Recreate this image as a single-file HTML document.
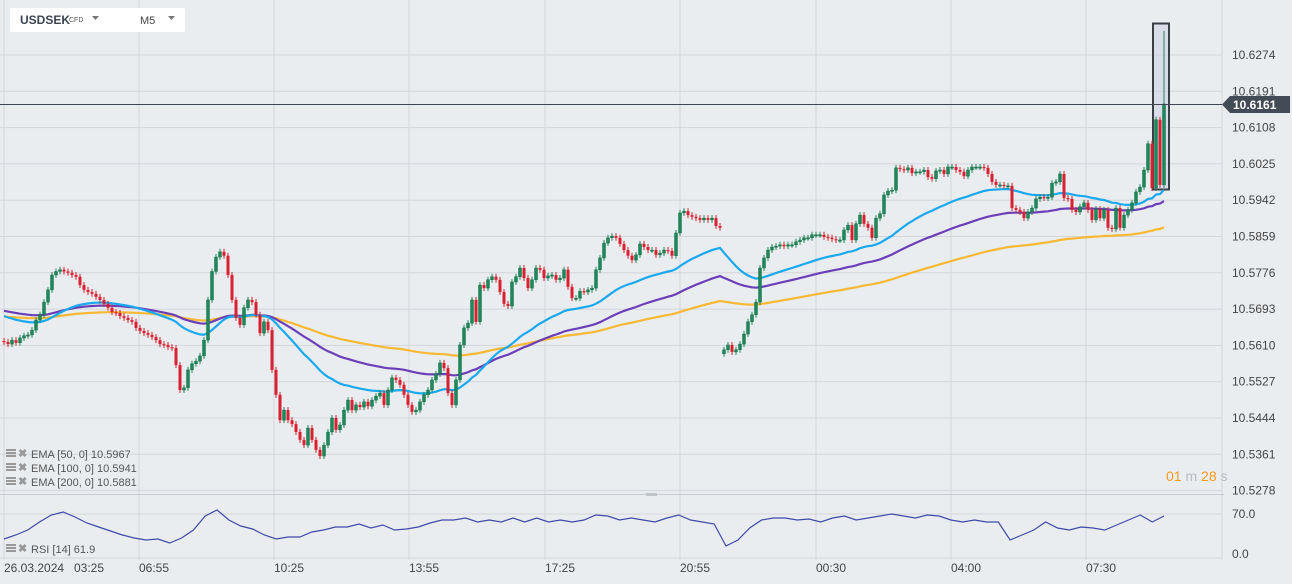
<!DOCTYPE html>
<html><head><meta charset="utf-8"><style>
html,body{margin:0;padding:0;background:#eaedf0;width:1292px;height:584px;overflow:hidden;font-family:"Liberation Sans",sans-serif}
svg{position:absolute;left:0;top:0}
</style></head><body>
<svg id="chart" width="1292" height="584" xmlns="http://www.w3.org/2000/svg"></svg>
<script>
const priceTicks=[10.6274,10.6191,10.6108,10.6025,10.5942,10.5859,10.5776,10.5693,10.5610,10.5527,10.5444,10.5361,10.5278];
const timeLabels=["26.03.2024","03:25","06:55","10:25","13:55","17:25","20:55","00:30","04:00","07:30"];
const closes=[10.5618,10.5613,10.5622,10.5616,10.5627,10.5632,10.5634,10.5645,10.5668,10.5680,10.5709,10.5737,10.5771,10.5779,10.5783,10.5779,10.5776,10.5771,10.5767,10.5748,10.5737,10.5732,10.5728,10.5721,10.5714,10.5705,10.5696,10.5686,10.5684,10.5677,10.5673,10.5668,10.5664,10.5650,10.5643,10.5638,10.5634,10.5629,10.5622,10.5613,10.5611,10.5606,10.5604,10.5565,10.5508,10.5513,10.5554,10.5568,10.5574,10.5586,10.5622,10.5714,10.5779,10.5812,10.5824,10.5815,10.5771,10.5714,10.5673,10.5657,10.5696,10.5714,10.5709,10.5680,10.5638,10.5664,10.5645,10.5554,10.5497,10.5439,10.5462,10.5439,10.5430,10.5412,10.5394,10.5382,10.5421,10.5394,10.5371,10.5357,10.5382,10.5412,10.5444,10.5417,10.5428,10.5462,10.5485,10.5462,10.5474,10.5469,10.5481,10.5471,10.5485,10.5494,10.5501,10.5474,10.5508,10.5536,10.5531,10.5520,10.5497,10.5474,10.5458,10.5462,10.5481,10.5497,10.5508,10.5531,10.5545,10.5570,10.5558,10.5501,10.5474,10.5531,10.5611,10.5650,10.5661,10.5714,10.5664,10.5748,10.5741,10.5760,10.5767,10.5760,10.5732,10.5705,10.5700,10.5755,10.5767,10.5787,10.5764,10.5741,10.5760,10.5787,10.5783,10.5764,10.5769,10.5771,10.5760,10.5764,10.5783,10.5744,10.5718,10.5718,10.5734,10.5732,10.5737,10.5741,10.5783,10.5810,10.5844,10.5856,10.5860,10.5856,10.5842,10.5828,10.5815,10.5805,10.5817,10.5842,10.5835,10.5828,10.5828,10.5817,10.5821,10.5828,10.5826,10.5815,10.5867,10.5913,10.5917,10.5908,10.5904,10.5901,10.5897,10.5901,10.5897,10.5901,10.5883,10.5879,10.5600,10.5611,10.5595,10.5600,10.5613,10.5636,10.5664,10.5680,10.5709,10.5787,10.5810,10.5828,10.5835,10.5837,10.5840,10.5837,10.5840,10.5840,10.5847,10.5851,10.5856,10.5856,10.5863,10.5863,10.5863,10.5858,10.5856,10.5853,10.5851,10.5851,10.5874,10.5885,10.5851,10.5888,10.5908,10.5888,10.5879,10.5856,10.5901,10.5911,10.5954,10.5963,10.5965,10.6016,10.6013,10.6011,10.6016,10.6004,10.6007,10.6007,10.6011,10.5995,10.5991,10.6009,10.6011,10.6002,10.6018,10.6018,10.6011,10.6007,10.5997,10.6011,10.6018,10.6018,10.6018,10.6016,10.6002,10.5984,10.5977,10.5977,10.5975,10.5975,10.5924,10.5920,10.5915,10.5901,10.5915,10.5924,10.5945,10.5949,10.5947,10.5949,10.5981,10.5984,10.6002,10.5947,10.5945,10.5920,10.5915,10.5927,10.5936,10.5920,10.5897,10.5922,10.5901,10.5920,10.5879,10.5876,10.5924,10.5879,10.5908,10.5920,10.5936,10.5961,10.5972,10.6011,10.6071,10.5970,10.6126,10.5977,10.6162];
const gapIndex=[180];
const lastHigh=10.6329;
const emaPeriods=[40,80,160];
const emaSeeds=[10.5680,10.5691,10.5677];
const rsiValues=[26.3,33.3,42,56,68.3,73.5,64.8,54.3,47.3,40.3,33.3,28,24.5,26.3,19.3,28,42,66.5,77,59.5,49,43.8,33.3,26.3,29.8,29.8,38.5,42,47.3,47.3,52.5,45.5,50.8,42,43.8,47.3,54.3,59.5,59.5,63,56,59.5,56,63,56,63,56,59.5,56,59.5,68.3,66.5,59.5,63,59.5,56,63,68.3,59.5,56,52.5,14,24.5,45.5,59.5,63,63,59.5,61.3,56,63,66.5,59.5,63,66.5,70,66.5,63,68.3,66.5,59.5,56,59.5,56,56,24.5,33.3,42,56,45.5,42,47.3,45.5,42,50.8,59.5,68.3,56,66.5];

const NS="http://www.w3.org/2000/svg";
const svg=document.getElementById('chart');
function el(t,a,p){const e=document.createElementNS(NS,t);for(const k in a)e.setAttribute(k,a[k]);(p||svg).appendChild(e);return e;}
const yP=p=>55+(10.6274-p)/0.0083*36.3;
const x0=4,x1=1164;
const xI=i=>x0+i*(x1-x0)/(closes.length-1);
const yR=v=>514+(70-v)/70*40;
const xR=i=>x0+i*(x1-x0)/(rsiValues.length-1);

const grid=el('g',{});


[4,139,274,409,545,680,816,951,1086,1222].forEach(x=>el('line',{x1:x,y1:0,x2:x,y2:560,stroke:'#d2d6da','stroke-width':1},grid));
priceTicks.forEach(p=>el('line',{x1:0,y1:yP(p),x2:1222,y2:yP(p),stroke:'#d2d6da','stroke-width':1},grid));
el('line',{x1:0,y1:514,x2:1222,y2:514,stroke:'#d2d6da'},grid);
el('line',{x1:0,y1:558,x2:1222,y2:558,stroke:'#d2d6da'},grid);
el('line',{x1:0,y1:494.5,x2:1224,y2:494.5,stroke:'#c8cdd2','stroke-width':1},grid);
el('rect',{x:646,y:493,width:11,height:3,fill:'#bfc4c9'},grid);

priceTicks.forEach(p=>{const t=el('text',{x:1232,y:yP(p)+4,'font-size':12,fill:'#444'});t.textContent=p.toFixed(4);

});
[[70,'70.0',518],[0,'0.0',558]].forEach(r=>{const t=el('text',{x:1232,y:r[2],'font-size':12,fill:'#444'});t.textContent=r[1];

});
const tx=[4,74,139,274,409,545,680,816,951,1086];
timeLabels.forEach((s,i)=>{const t=el('text',{x:tx[i],y:572,'font-size':12,fill:'#444'});t.textContent=s;

});

const hb=el('rect',{x:1153,y:23.5,width:16,height:166,fill:'rgba(205,205,230,0.55)',stroke:'#3a3f45','stroke-width':2});



const emaColors=['#1aa9ee','#6b3fb8','#f8b833'];
[2,1,0].forEach(k=>{let e=emaSeeds[k];const a=2/(emaPeriods[k]+1);let d='';
closes.forEach((c,i)=>{e=e+a*(c-e);d+=(i?'L':'M')+xI(i).toFixed(1)+' '+yP(e).toFixed(1);});
const pth=el('path',{d:d,fill:'none',stroke:emaColors[k],'stroke-width':2.2});

});

const cg=el('g',{});


closes.forEach((c,i)=>{let o=i?closes[i-1]:c+0.0002;if(gapIndex.includes(i))o=c-0.0009;
const up=c>=o;const col=up?'#1a8a5a':'#d92030';const x=xI(i);
const top=yP(Math.max(o,c)),bot=yP(Math.min(o,c));
const hi=i===closes.length-1?yP(lastHigh):top-3;
el('line',{x1:x,y1:hi,x2:x,y2:bot+3,stroke:col,'stroke-width':1},cg);
const b=el('rect',{x:x-1.5,y:top,width:3,height:Math.max(1.2,bot-top),fill:col,stroke:'#0f5c3a','stroke-width':up?0.4:0},cg);

});

el('line',{x1:0,y1:104.5,x2:1222,y2:104.5,stroke:'#3e4751','stroke-width':1});
const pl=el('g',{});


el('path',{d:'M1222 104.5 L1230 96 L1290 96 L1290 113 L1230 113 Z',fill:'#434c56'},pl);
const pt=el('text',{x:1233,y:109,'font-size':12,'font-weight':'bold',fill:'#fff'},pl);pt.textContent='10.6161';

let rd='';rsiValues.forEach((v,i)=>{rd+=(i?'L':'M')+xR(i).toFixed(1)+' '+yR(v).toFixed(1);});
const rl=el('path',{d:rd,fill:'none',stroke:'#3f49a8','stroke-width':1.2});



function legend(y,txt,name){const g=el('g',{});


el('rect',{x:6,y:y-8,width:10,height:2,fill:'#999'},g);el('rect',{x:6,y:y-5,width:10,height:2,fill:'#999'},g);el('rect',{x:6,y:y-2,width:10,height:2,fill:'#999'},g);
const xx=el('text',{x:18,y:y,'font-size':11,'font-weight':'bold',fill:'#999'},g);xx.textContent='✖';
const t=el('text',{x:31,y:y+1,'font-size':11,fill:'#555'},g);t.textContent=txt;}
legend(457,'EMA [50,  0] 10.5967','ema-50-legend');
legend(471,'EMA [100,  0] 10.5941','ema-100-legend');
legend(485,'EMA [200,  0] 10.5881','ema-200-legend');
legend(552,'RSI [14]  61.9','rsi-legend');

const cd=el('text',{x:1166,y:481,'font-size':14});


cd.innerHTML='<tspan fill="#f59a1b">01</tspan><tspan fill="#b9bdc2"> m </tspan><tspan fill="#f59a1b">28</tspan><tspan fill="#b9bdc2"> s</tspan>';

const sb=el('g',{});


el('rect',{x:10,y:8,width:175,height:24,fill:'#fff',rx:2},sb);
const s1=el('text',{x:20,y:24,'font-size':12,'font-weight':'bold',fill:'#3a4450'},sb);s1.textContent='USDSEK';
const s2=el('text',{x:69,y:22,'font-size':7,fill:'#555'},sb);s2.textContent='CFD';
el('path',{d:'M92 16 L99 16 L95.5 20 Z',fill:'#777'},sb);
const tf=el('text',{x:140,y:24,'font-size':11,fill:'#444'},sb);tf.textContent='M5';


el('path',{d:'M168 16 L175 16 L171.5 20 Z',fill:'#777'},sb);
</script>
</body></html>
